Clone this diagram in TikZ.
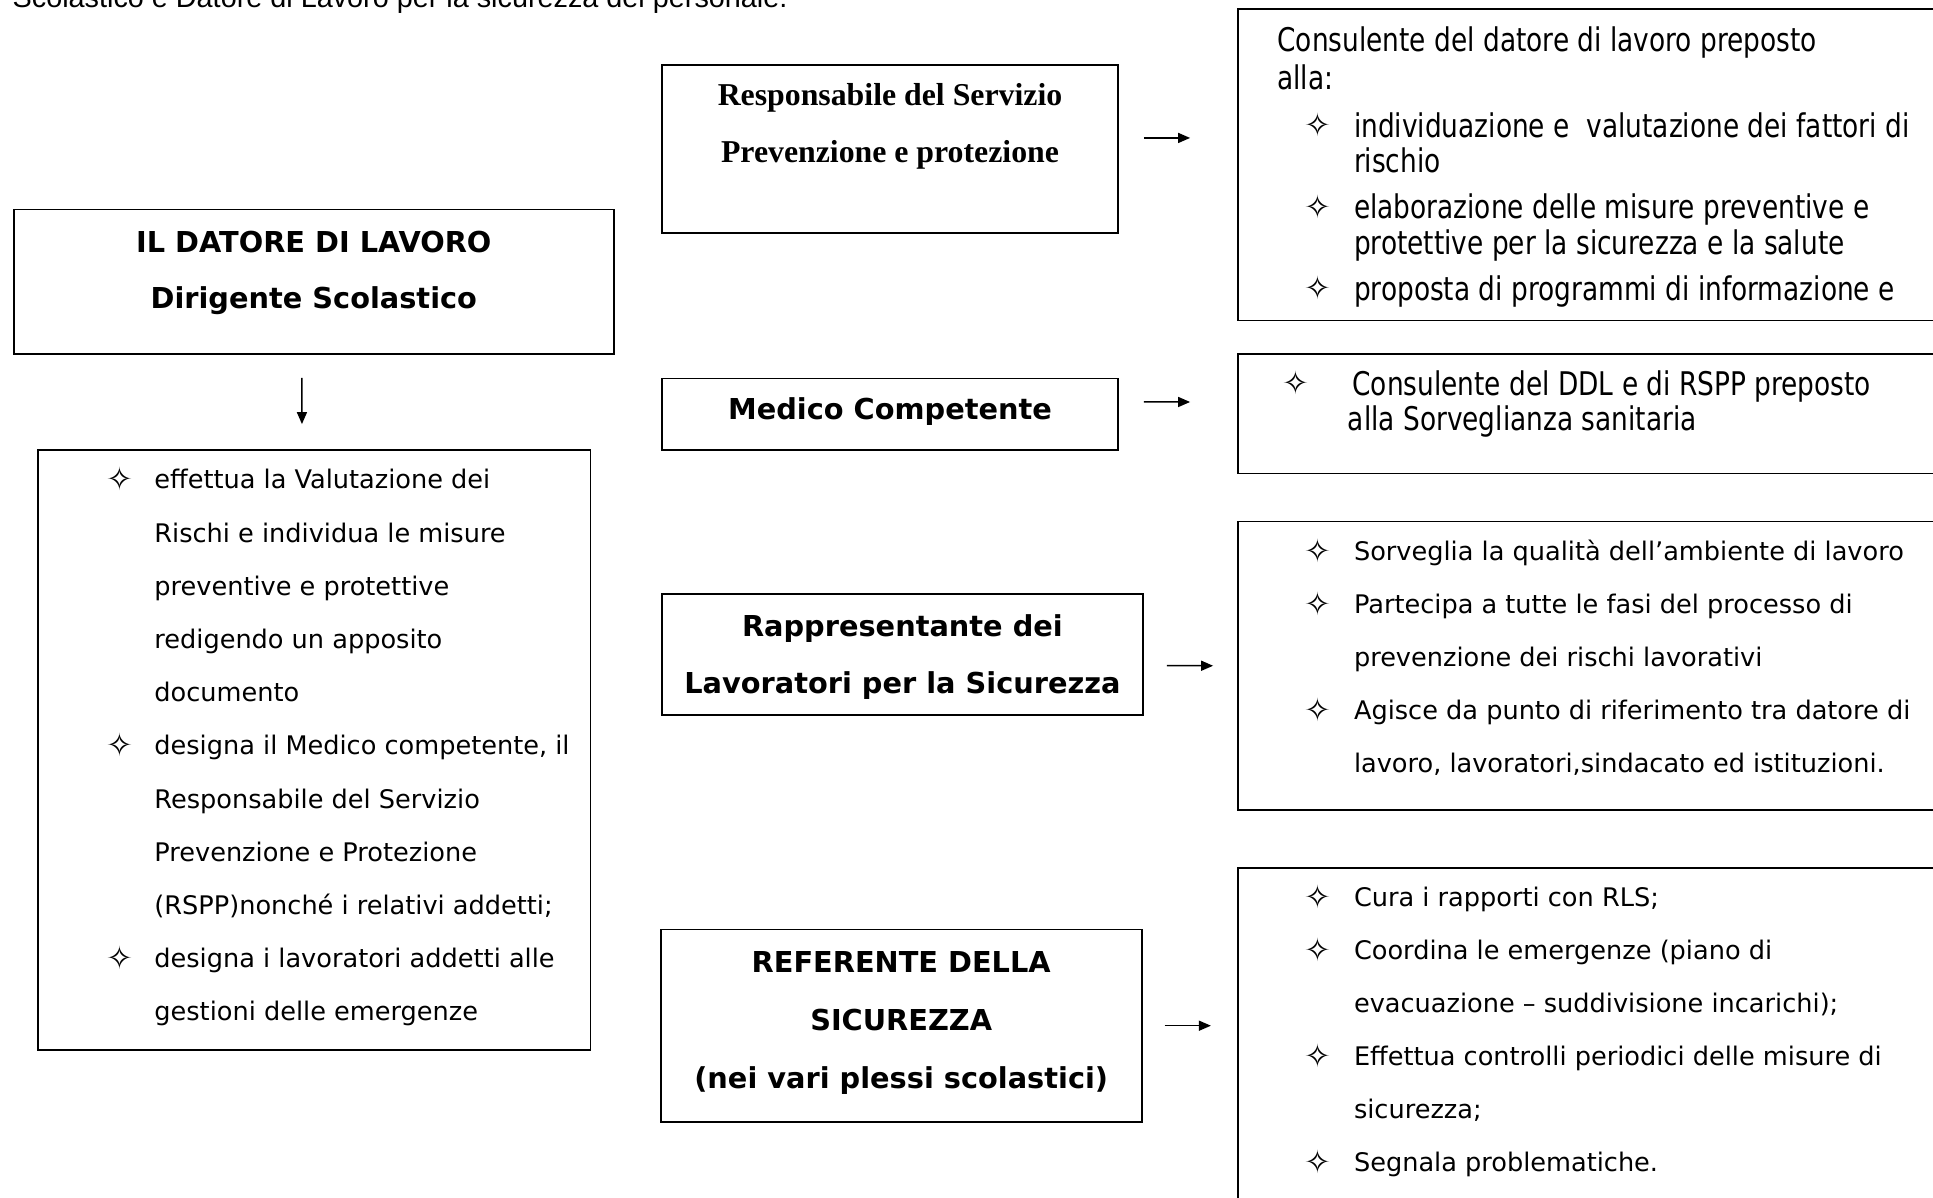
\documentclass[tikz,border=0pt]{standalone}
\usepackage{fontspec}
\setmainfont{DejaVu Sans}
\newfontfamily\tahf{DejaVu Sans}[FakeStretch=0.81]
\newfontfamily\timesf{Liberation Serif}
\newfontfamily\arialf{Liberation Sans}
\usetikzlibrary{fit,calc,arrows.meta}
\tikzset{
  box/.style={draw, line width=0.9pt, inner sep=0pt, rectangle},
  ttl/.style={font=\bfseries\fontsize{14.4}{17}\selectfont, inner sep=0pt, text height=10.5pt, text depth=0pt, anchor=center},
  tms/.style={font=\timesf\bfseries\fontsize{15.9}{19}\selectfont, inner sep=0pt, text height=10.5pt, text depth=0pt, anchor=center},
  body/.style={font=\fontsize{12.8}{15}\selectfont, inner sep=0pt, text height=9.3pt, text depth=0pt, anchor=west},
  tah/.style={font=\tahf\fontsize{16.3}{19}\selectfont, inner sep=0pt, text height=11.8pt, text depth=0pt, anchor=west},
  bul/.style={font=\fontsize{16}{18}\selectfont, inner sep=0pt, text height=11pt, text depth=0pt, anchor=center},
  arr/.style={line width=0.75pt, -{Triangle[length=6pt,width=5pt]}}
}
\begin{document}
\begin{tikzpicture}[x=0.5pt,y=-0.5pt]
\useasboundingbox (0,0) rectangle (1933,1198);
% top cut-off text
\node[font=\arialf\fontsize{14.4}{17}\selectfont, inner sep=0pt, anchor=base west] (top) at (12.3,8) {Scolastico e Datore di Lavoro per la sicurezza del personale.};

% boxes
\node[box, fit={(13.6,209.6) (613.9,353.8)}] (datore) {};
\node[box, fit={(38.2,450) (590.5,1050.3)}] (duties) {};
\node[box, fit={(662,65.3) (1118,233)}] (rspp) {};
\node[box, fit={(1237.7,9) (1945,320.5)}] (rsppd) {};
\node[box, fit={(662,378.5) (1118,450)}] (medico) {};
\node[box, fit={(1237.7,353.8) (1945,473.4)}] (medicod) {};
\node[box, fit={(662,594.2) (1142.8,715)}] (rls) {};
\node[box, fit={(1237.7,521.5) (1945,810)}] (rlsd) {};
\node[box, fit={(660.8,929.5) (1141.6,1121.9)}] (ref) {};
\node[box, fit={(1237.7,868) (1945,1215)}] (refd) {};

% titles
\node[ttl] (t1) at (313.8,241.6) {IL DATORE DI LAVORO};
\node[ttl] (t2) at (313.8,298.3) {Dirigente Scolastico};
\node[tms] (t3) at (890,95) {Responsabile del Servizio};
\node[tms] (t4) at (890,151.6) {Prevenzione e protezione};
\node[ttl] (t5) at (890,409.3) {Medico Competente};
\node[ttl] (t6) at (902.4,626.3) {Rappresentante dei};
\node[ttl] (t7) at (902.4,683) {Lavoratori per la Sicurezza};
\node[ttl] (t8) at (901.2,961.6) {REFERENTE DELLA};
\node[ttl] (t9) at (901.2,1019.5) {SICUREZZA};
\node[ttl] (t10) at (901.2,1077.5) {(nei vari plessi scolastici)};

% duties of datore
\node[bul] (b1) at (119.6,479.6) {✧};
\node[bul] (b2) at (119.6,745.6) {✧};
\node[bul] (b3) at (119.6,958.4) {✧};
\node[body] (d1) at (154,479.6) {effettua la Valutazione dei};
\node[body] (d2) at (154,532.8) {Rischi e individua le misure};
\node[body] (d3) at (154,586) {preventive e protettive};
\node[body] (d4) at (154,639.2) {redigendo un apposito};
\node[body] (d5) at (154,692.4) {documento};
\node[body] (d6) at (154,745.6) {designa il Medico competente, il};
\node[body] (d7) at (154,798.8) {Responsabile del Servizio};
\node[body] (d8) at (154,852) {Prevenzione e Protezione};
\node[body] (d9) at (154,905.2) {(RSPP)nonché i relativi addetti;};
\node[body] (d10) at (154,958.4) {designa i lavoratori addetti alle};
\node[body] (d11) at (154,1011.6) {gestioni delle emergenze};

% RSPP description
\node[tah] (c1) at (1277,39.5) {Consulente del datore di lavoro preposto};
\node[tah] (c2) at (1277,77.7) {alla:};
\node[bul] (cb1) at (1318,125.7) {✧};
\node[bul] (cb2) at (1318,207.1) {✧};
\node[bul] (cb3) at (1318,288.5) {✧};
\node[tah] (c3) at (1353.6,125.7) {individuazione e \ valutazione dei fattori di};
\node[tah] (c4) at (1353.6,160.3) {rischio};
\node[tah] (c5) at (1353.6,207.1) {elaborazione delle misure preventive e};
\node[tah] (c6) at (1353.6,242.9) {protettive per la sicurezza e la salute};
\node[tah] (c7) at (1353.6,288.5) {proposta di programmi di informazione e};

% Medico description
\node[bul] (mb1) at (1295.7,383.4) {✧};
\node[tah] (m1) at (1352,383.4) {Consulente del DDL e di RSPP preposto};
\node[tah] (m2) at (1347.5,419) {alla Sorveglianza sanitaria};

% RLS description
\node[bul] (rb1) at (1318,551) {✧};
\node[bul] (rb2) at (1318,604) {✧};
\node[bul] (rb3) at (1318,710) {✧};
\node[body] (r1) at (1353.6,551) {Sorveglia la qualità dell’ambiente di lavoro};
\node[body] (r2) at (1353.6,604) {Partecipa a tutte le fasi del processo di};
\node[body] (r3) at (1353.6,657) {prevenzione dei rischi lavorativi};
\node[body] (r4) at (1353.6,710) {Agisce da punto di riferimento tra datore di};
\node[body] (r5) at (1353.6,763) {lavoro, lavoratori,sindacato ed istituzioni.};

% Referente description
\node[bul] (fb1) at (1318,897.5) {✧};
\node[bul] (fb2) at (1318,950.5) {✧};
\node[bul] (fb3) at (1318,1056.5) {✧};
\node[bul] (fb4) at (1318,1162.5) {✧};
\node[body] (f1) at (1353.6,897.5) {Cura i rapporti con RLS;};
\node[body] (f2) at (1353.6,950.5) {Coordina le emergenze (piano di};
\node[body] (f3) at (1353.6,1003.5) {evacuazione – suddivisione incarichi);};
\node[body] (f4) at (1353.6,1056.5) {Effettua controlli periodici delle misure di};
\node[body] (f5) at (1353.6,1109.5) {sicurezza;};
\node[body] (f6) at (1353.6,1162.5) {Segnala problematiche.};

% connectors
\draw[arr] ($(datore.south)+(-11.8,23.2)$) -- ($(duties.north)+(-12.4,-25)$);
\draw[arr] ($(rspp.east)+(25,-11.2)$) -- ($(rsppd.west)+(-46.7,-26.8)$);
\draw[arr] ($(medico.east)+(25,-12.3)$) -- ($(medicod.west)+(-46.7,-11.6)$);
\draw[arr] ($(rls.east)+(23.2,11.1)$) -- ($(rlsd.west)+(-23.7,0)$);
\draw[arr] ($(ref.east)+(22.2,0)$) -- ($(refd.west)+(-25.9,-15.8)$);
\end{tikzpicture}
\end{document}
